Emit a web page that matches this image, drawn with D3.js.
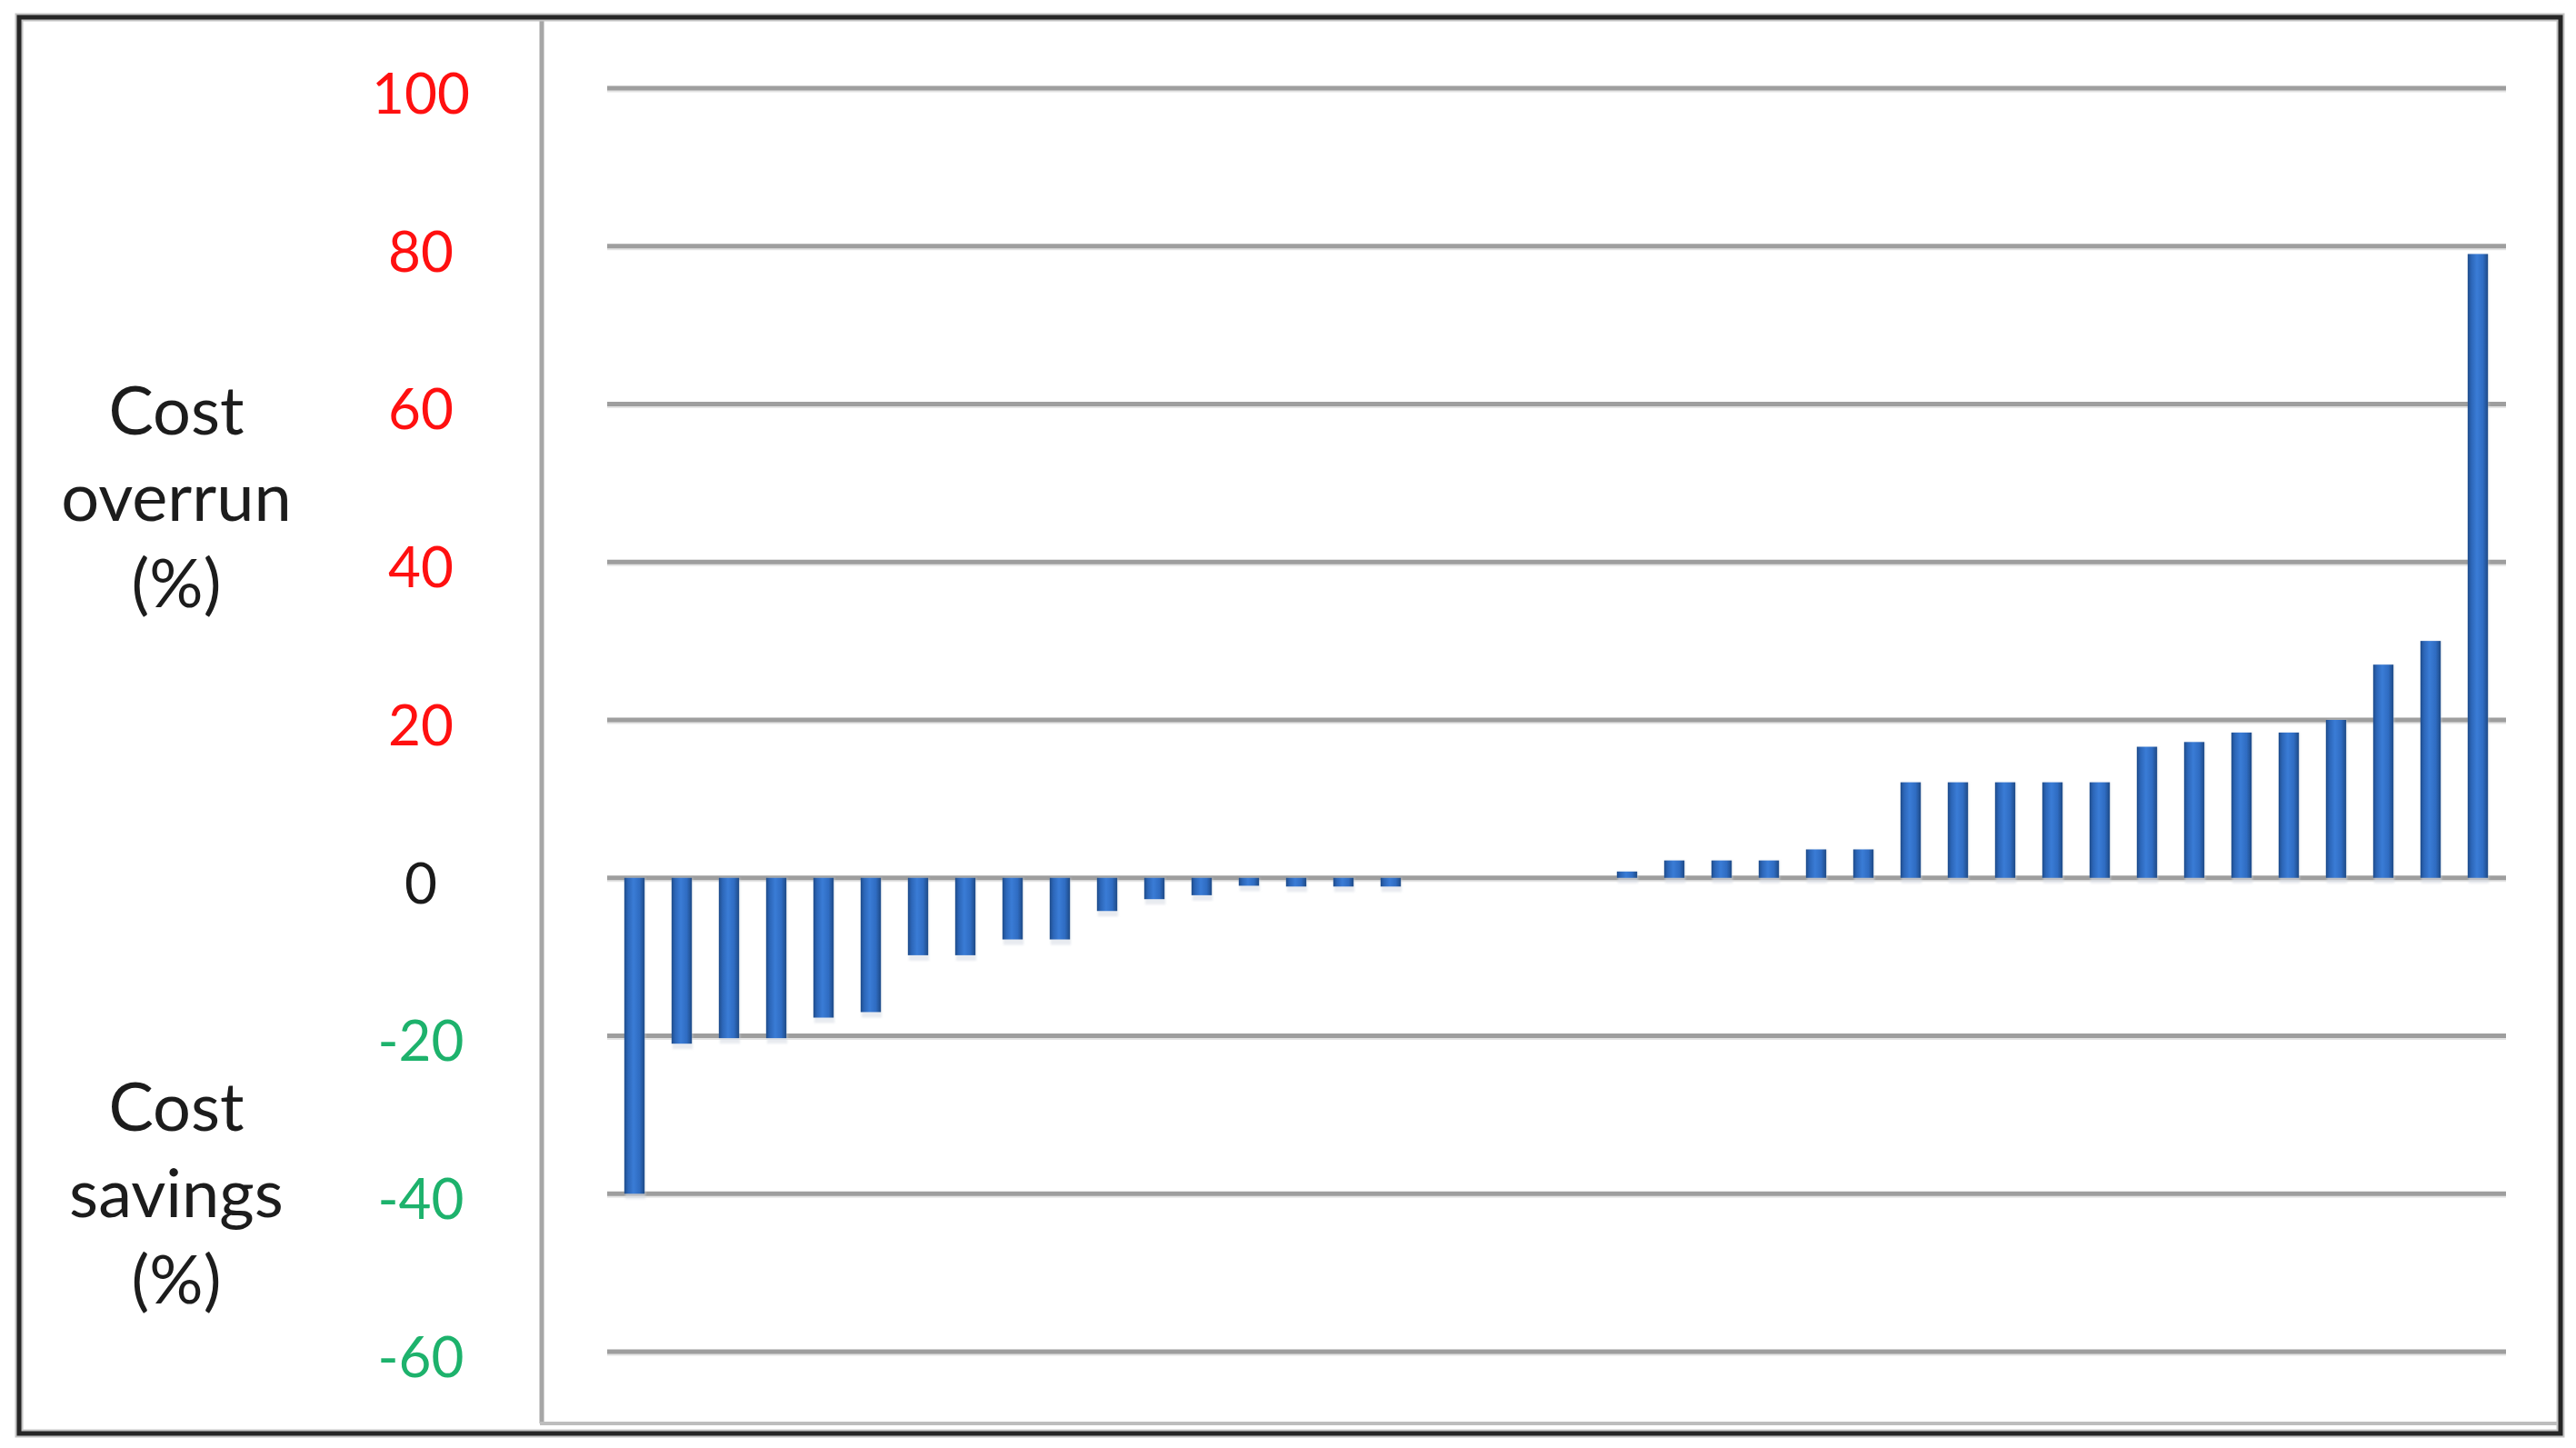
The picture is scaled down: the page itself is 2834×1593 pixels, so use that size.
<!DOCTYPE html>
<html>
<head>
<meta charset="utf-8">
<script src="https://cdn.jsdelivr.net/npm/d3@7"></script>
<style>
  html, body { margin: 0; padding: 0; background: #ffffff; }
  svg { display: block; }
</style>
</head>
<body>
<svg id="chart" width="2834" height="1593"></svg>
<script>
// ---------------- data ----------------
const categories = [1,2,3,4,5,6,7,8,9,10,11,12,13,14,15,16,17,18,19,20,
                    21,22,23,24,25,26,27,28,29,30,31,32,33,34,35,36,37,38,39,40];
const values = [-40, -21, -20.3, -20.3, -17.7, -17, -9.8, -9.8, -7.8, -7.8,
                -4.2, -2.7, -2.2, -1.0, -1.1, -1.1, -1.1, 0, 0, 0,
                0, 0.8, 2.2, 2.2, 2.2, 3.6, 3.6, 12.1, 12.1, 12.1,
                12.1, 12.1, 16.6, 17.2, 18.4, 18.4, 20, 27, 30, 79];
const tickValues = [100, 80, 60, 40, 20, 0, -20, -40, -60];
const tickLabels = ["100", "80", "60", "40", "20", "0", "-20", "-40", "-60"];
const labelOverrun = ["Cost", "overrun", "(%)"];
const labelSavings = ["Cost", "savings", "(%)"];

// ---------------- layout ----------------
const svg = d3.select("#chart");
const W = 2834, H = 1593;
const plot = { left: 668, right: 2757, top: 97, bottom: 1487 };

const x = d3.scaleBand()
  .domain(categories)
  .range([672, 2752])
  .paddingInner(0.57)
  .paddingOuter(0.285);

const y = d3.scaleLinear()
  .domain([-60, 100])
  .range([plot.bottom, plot.top]);

// defs
const defs = svg.append("defs");
const grad = defs.append("linearGradient")
  .attr("id", "barGrad").attr("x1", "0").attr("x2", "1").attr("y1", "0").attr("y2", "0");
[["0%", "#1f4c8a"], ["18%", "#2c66b8"], ["45%", "#3a7cd6"], ["75%", "#2f6cc2"], ["100%", "#1e4a86"]]
  .forEach(([o, c]) => grad.append("stop").attr("offset", o).attr("stop-color", c));

const shadow = defs.append("filter").attr("id", "soft").attr("x", "-20%").attr("y", "-20%")
  .attr("width", "140%").attr("height", "140%");
shadow.append("feGaussianBlur").attr("stdDeviation", 1.2);

// background
svg.append("rect").attr("x", 0).attr("y", 0).attr("width", W).attr("height", H).attr("fill", "#ffffff");

// divider between label panel and plot panel
svg.append("line")
  .attr("x1", 596).attr("x2", 596).attr("y1", 20).attr("y2", 1566)
  .attr("stroke", "#a6a6a6").attr("stroke-width", 5);
// inner bottom line of plot panel
svg.append("line")
  .attr("x1", 594).attr("x2", 2815).attr("y1", 1566).attr("y2", 1566)
  .attr("stroke", "#bdbdbd").attr("stroke-width", 4);

// outer frame
svg.append("rect")
  .attr("x", 21).attr("y", 19).attr("width", 2796).attr("height", 1558)
  .attr("fill", "none").attr("stroke", "#c4c4c4").attr("stroke-width", 9);
svg.append("rect")
  .attr("x", 21).attr("y", 19).attr("width", 2796).attr("height", 1558)
  .attr("fill", "none").attr("stroke", "#262626").attr("stroke-width", 5);

// gridlines
const gridG = svg.append("g").attr("class", "grid");
gridG.selectAll("line.shadow")
  .data(tickValues)
  .join("line")
  .attr("class", "shadow")
  .attr("x1", plot.left).attr("x2", plot.right)
  .attr("y1", d => y(d) + 3).attr("y2", d => y(d) + 3)
  .attr("stroke", "#e4e4e4").attr("stroke-width", 3);
gridG.selectAll("line.main")
  .data(tickValues)
  .join("line")
  .attr("class", "main")
  .attr("x1", plot.left).attr("x2", plot.right)
  .attr("y1", d => y(d)).attr("y2", d => y(d))
  .attr("stroke", "#9e9e9e").attr("stroke-width", 5);

// bars
const barData = values.map((v, i) => ({ c: categories[i], v }));
const barsG = svg.append("g").attr("class", "bars");
barsG.selectAll("rect.bshadow")
  .data(barData)
  .join("rect")
  .attr("class", "bshadow")
  .attr("x", d => x(d.c) + 1)
  .attr("width", x.bandwidth())
  .attr("y", d => d.v >= 0 ? y(d.v) : y(0))
  .attr("height", d => Math.abs(y(d.v) - y(0)) + (d.v === 0 ? 0 : 6))
  .attr("fill", "#d7dbe4")
  .attr("opacity", 0.55)
  .attr("filter", "url(#soft)");
barsG.selectAll("rect.bar")
  .data(barData)
  .join("rect")
  .attr("class", "bar")
  .attr("x", d => x(d.c))
  .attr("width", x.bandwidth())
  .attr("y", d => Math.min(y(d.v), y(0)))
  .attr("height", d => Math.abs(y(d.v) - y(0)))
  .attr("fill", "url(#barGrad)");

// y-axis tick labels (axis generator, domain and ticks hidden)
const axis = d3.axisLeft(y)
  .tickValues(tickValues)
  .tickFormat((d, i) => tickLabels[i])
  .tickSize(0)
  .tickPadding(0);
const axisG = svg.append("g")
  .attr("transform", "translate(463,5)")
  .call(axis);
axisG.select(".domain").remove();
axisG.selectAll("text")
  .attr("x", 0)
  .attr("dy", "0.36em")
  .attr("text-anchor", "middle")
  .attr("font-family", "Lato, 'Open Sans', sans-serif")
  .attr("font-size", 62)
  .attr("fill", d => d > 0 ? "#ff1010" : (d < 0 ? "#1db26c" : "#1a1a1a"));

// side labels
function sideLabel(lines, baseline0) {
  const t = svg.append("text")
    .attr("text-anchor", "middle")
    .attr("font-family", "Lato, 'Open Sans', sans-serif")
    .attr("font-size", 74)
    .attr("fill", "#1c1c1c");
  lines.forEach((s, i) => {
    t.append("tspan").attr("x", 194).attr("y", baseline0 + i * 95).text(s);
  });
}
sideLabel(labelOverrun, 478);
sideLabel(labelSavings, 1244);
</script>
</body>
</html>
